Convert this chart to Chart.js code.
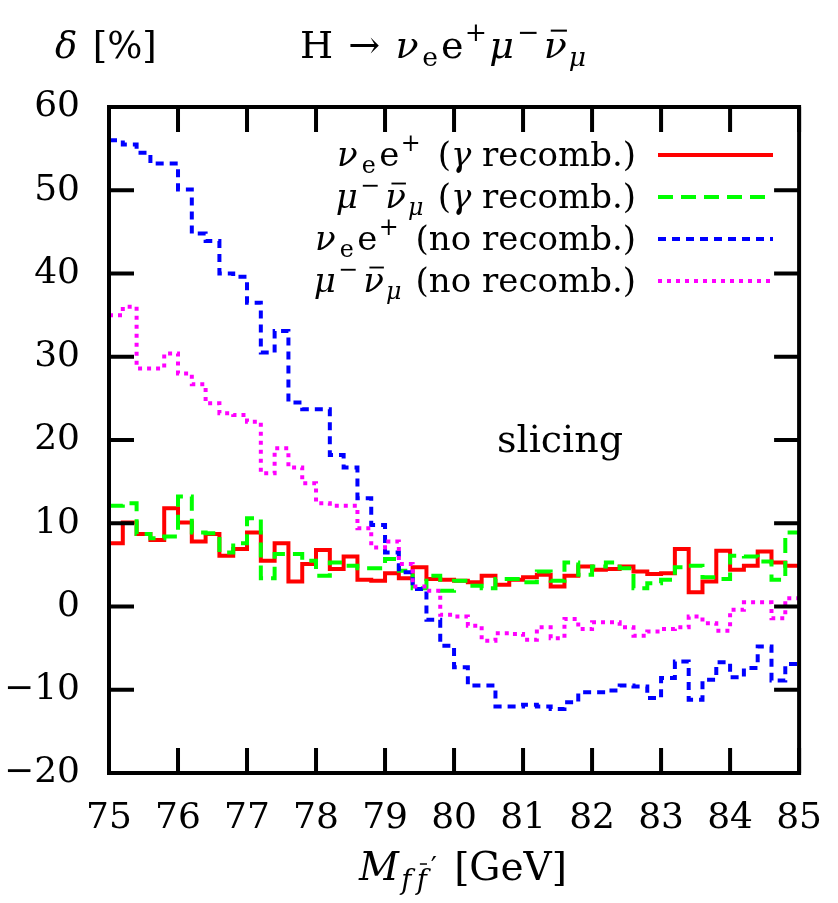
<!DOCTYPE html>
<html>
<head>
<meta charset="utf-8">
<script src="https://cdn.jsdelivr.net/npm/chart.js@4.4.0/dist/chart.umd.min.js"></script>
<style>
html, body { margin: 0; padding: 0; background: #fff; }
#sim_container { width: 838px; height: 903px; }
</style>
</head>
<body>
<div id="sim_container"><canvas id="grafica" width="838" height="903"></canvas></div>
<script>
/* Datos del histograma (bins de 0.2 GeV) */

// bordes de los bins, el ultimo cierra el histograma
const bordesBin = [75.0, 75.2, 75.4, 75.6, 75.8, 76.0, 76.2, 76.4, 76.6, 76.8,
                   77.0, 77.2, 77.4, 77.6, 77.8, 78.0, 78.2, 78.4, 78.6, 78.8,
                   79.0, 79.2, 79.4, 79.6, 79.8, 80.0, 80.2, 80.4, 80.6, 80.8,
                   81.0, 81.2, 81.4, 81.6, 81.8, 82.0, 82.2, 82.4, 82.6, 82.8,
                   83.0, 83.2, 83.4, 83.6, 83.8, 84.0, 84.2, 84.4, 84.6, 84.8, 85.0];

// nu_e e+ con recombinacion de fotones
const enuRecomb = [7.6, 10.1, 8.7, 8.0, 11.8, 10.1, 7.8, 8.7, 6.1, 6.9,
                   8.9, 5.5, 7.6, 3.0, 5.1, 6.8, 4.5, 6.0, 3.2, 3.1,
                   4.0, 3.4, 4.7, 3.3, 3.2, 3.1, 2.9, 3.7, 2.6, 3.2,
                   3.5, 3.8, 2.4, 3.7, 4.8, 4.4, 4.5, 4.8, 4.2, 3.9,
                   4.0, 6.9, 1.7, 3.0, 6.7, 4.4, 4.9, 6.6, 5.3, 4.9];

// mu- nubar_mu con recombinacion
const munuRecomb = [12.1, 12.4, 8.7, 8.2, 8.4, 13.2, 8.9, 8.8, 6.5, 7.6,
                    10.6, 3.4, 6.3, 6.3, 5.5, 3.7, 5.3, 4.9, 4.6, 4.6,
                    5.7, 4.3, 2.2, 3.7, 1.9, 3.1, 2.5, 2.2, 3.3, 3.3,
                    2.9, 4.2, 3.1, 5.3, 3.8, 4.8, 5.3, 4.6, 2.2, 2.8,
                    3.2, 4.7, 4.9, 3.5, 3.3, 6.1, 6.0, 5.4, 3.2, 8.9];

// nu_e e+ sin recombinacion
const enuSinRecomb = [56.0, 55.5, 54.5, 53.2, 53.2, 50.1, 44.8, 43.9, 40.0, 39.6,
                      36.5, 30.5, 33.1, 24.5, 23.7, 23.7, 18.2, 16.7, 13.0, 9.8,
                      6.5, 4.1, 2.1, -1.6, -4.7, -7.3, -9.5, -9.5, -12.0, -12.0,
                      -11.8, -12.0, -12.3, -11.5, -10.3, -10.3, -10.1, -9.5, -9.6, -11.0,
                      -8.6, -6.6, -11.2, -8.8, -6.7, -8.5, -7.4, -4.8, -8.9, -6.9];

// mu- nubar_mu sin recombinacion
const munuSinRecomb = [35.0, 36.0, 28.6, 28.6, 30.4, 28.0, 26.7, 24.4, 23.2, 23.0,
                       22.2, 16.0, 19.0, 16.7, 14.8, 12.4, 12.1, 12.1, 9.4, 7.1,
                       7.8, 5.1, 2.4, 1.9, -1.0, -1.2, -2.3, -4.1, -3.2, -3.3,
                       -4.0, -2.5, -3.8, -1.5, -2.7, -1.9, -1.9, -2.5, -3.5, -3.0,
                       -2.7, -2.5, -1.2, -2.0, -2.9, -0.4, 0.5, 0.5, -1.4, 1.0];

const ticksX = [75, 76, 77, 78, 79, 80, 81, 82, 83, 84, 85];
const ticksY = [-20, -10, 0, 10, 20, 30, 40, 50, 60];

const fuente = '"DejaVu Serif", "Liberation Serif", serif';
const tamLetra = 36;

// convierte los valores por bin en puntos escalonados
function histograma(valores) {
    return bordesBin.map((x, i) => ({ x: x, y: valores[Math.min(i, valores.length - 1)] }));
}

// Dibuja texto con subindices, superindices, cursiva y barra
// p.t texto, p.i cursiva, p.s 'sub'/'sup', p.b barra, p.e espacio extra (em), p.dy ajuste vertical (em)
function textoRico(ctx, partes, x, y, alinear, tam) {
    const medir = (p) => {
        let t = p.s ? tam * 0.7 : tam;
        ctx.font = (p.i ? 'italic ' : '') + t + 'px ' + fuente;
        return ctx.measureText(p.t).width;
    };
    let total = 0;
    partes.forEach(p => total += medir(p) + (p.e || 0) * tam);
    let cx = x;
    if (alinear === 'right') cx = x - total;
    if (alinear === 'center') cx = x - total / 2;
    ctx.textBaseline = 'alphabetic';
    ctx.textAlign = 'left';
    ctx.fillStyle = '#000';
    partes.forEach(p => {
        let w = medir(p);
        let dy = 0;
        if (p.s === 'sub') dy = tam * 0.22;
        if (p.s === 'sup') dy = -tam * 0.45;
        dy += (p.dy || 0) * tam;
        ctx.fillText(p.t, cx, y + dy);
        if (p.b) {
            // barra encima (antipartícula)
            let t = p.s ? tam * 0.7 : tam;
            let alto = p.b === 2 ? 0.9 : 0.72;
            ctx.save();
            ctx.strokeStyle = '#000';
            ctx.lineWidth = Math.max(1.5, t * 0.055);
            ctx.setLineDash([]);
            ctx.beginPath();
            ctx.moveTo(cx + w * 0.3, y + dy - t * alto);
            ctx.lineTo(cx + w * 1.0, y + dy - t * alto);
            ctx.stroke();
            ctx.restore();
        }
        cx += w + (p.e || 0) * tam;
    });
}

const nuE = [{ t: 'ν', i: 1, e: 0.12 }, { t: 'e', s: 'sub', e: 0.1 }, { t: 'e', e: 0.04 }, { t: '+', s: 'sup', e: 0.18 }];
const muNu = [{ t: 'μ', i: 1, e: 0.08 }, { t: '−', s: 'sup', e: 0.14 }, { t: 'ν', i: 1, b: 1, e: 0.06 }, { t: 'μ', i: 1, s: 'sub', e: 0.1 }];

const textosLeyenda = [
    nuE.concat([{ t: ' (' }, { t: 'γ', i: 1 }, { t: ' recomb.)' }]),
    muNu.concat([{ t: ' (' }, { t: 'γ', i: 1 }, { t: ' recomb.)' }]),
    nuE.concat([{ t: ' (no recomb.)' }]),
    muNu.concat([{ t: ' (no recomb.)' }])
];

const textoTitulo = [
    { t: 'H', e: 0.4 }, { t: '→', e: 0.4 },
    { t: 'ν', i: 1, e: 0.1 }, { t: 'e', s: 'sub', e: 0.08 }, { t: 'e', e: 0.03 }, { t: '+', s: 'sup', e: 0.06 },
    { t: 'μ', i: 1, e: 0.08 }, { t: '−', s: 'sup', e: 0.12 }, { t: 'ν', i: 1, b: 1, e: 0.05 }, { t: 'μ', i: 1, s: 'sub' }
];

const textoEjeX = [
    { t: 'M', i: 1, e: 0.06 }, { t: 'f', i: 1, s: 'sub', e: 0.14 }, { t: 'f', i: 1, s: 'sub', b: 2, e: 0.1 },
    { t: '′', s: 'sub', dy: -0.3, e: 0.12 }, { t: ' [GeV]' }
];

// Marcas hacia dentro, borde y textos del estilo gnuplot
const decoracion = {
    id: 'decoracion',
    afterDatasetsDraw(chart) {
        const ctx = chart.ctx;
        const a = chart.chartArea;
        const sx = chart.scales.x;
        const sy = chart.scales.y;
        ctx.save();
        ctx.strokeStyle = '#000';
        ctx.lineWidth = 4;
        ctx.beginPath();
        ticksX.forEach(v => {
            let px = sx.getPixelForValue(v);
            ctx.moveTo(px, a.bottom); ctx.lineTo(px, a.bottom - 25);
            ctx.moveTo(px, a.top); ctx.lineTo(px, a.top + 25);
        });
        ticksY.forEach(v => {
            let py = sy.getPixelForValue(v);
            ctx.moveTo(a.left, py); ctx.lineTo(a.left + 25, py);
            ctx.moveTo(a.right, py); ctx.lineTo(a.right - 25, py);
        });
        ctx.stroke();
        ctx.strokeRect(a.left, a.top, a.right - a.left, a.bottom - a.top);

        // leyenda
        chart.data.datasets.forEach((ds, i) => {
            let yb = 166 + i * 42;
            textoRico(ctx, textosLeyenda[i], 636, yb, 'right', 34);
            ctx.beginPath();
            ctx.strokeStyle = ds.borderColor;
            ctx.lineWidth = ds.borderWidth;
            ctx.setLineDash(ds.borderDash || []);
            ctx.moveTo(658, yb - 11);
            ctx.lineTo(773, yb - 11);
            ctx.stroke();
            ctx.setLineDash([]);
        });

        textoRico(ctx, [{ t: 'slicing' }], 497, 452, 'left', 38);
        textoRico(ctx, [{ t: 'δ', i: 1, e: 0.1 }, { t: ' [%]' }], 55, 58, 'left', 37);
        textoRico(ctx, textoTitulo, 300, 58, 'left', 38);
        textoRico(ctx, textoEjeX, 463, 880, 'center', 39);
        ctx.restore();
    }
};

function crearGrafica() {
    let ctx = document.getElementById('grafica').getContext('2d');
    return new Chart(ctx, {
        type: 'line',
        data: {
            datasets: [{
                label: 'nu_e e+ (gamma recomb.)',
                data: histograma(enuRecomb),
                borderColor: '#ff0000',
                borderWidth: 4,
                order: 4
            }, {
                label: 'mu- nubar_mu (gamma recomb.)',
                data: histograma(munuRecomb),
                borderColor: '#00ff00',
                borderWidth: 4,
                borderDash: [15, 8],
                order: 3
            }, {
                label: 'nu_e e+ (no recomb.)',
                data: histograma(enuSinRecomb),
                borderColor: '#0000ff',
                borderWidth: 4,
                borderDash: [8, 6],
                order: 2
            }, {
                label: 'mu- nubar_mu (no recomb.)',
                data: histograma(munuSinRecomb),
                borderColor: '#ff00ff',
                borderWidth: 4,
                borderDash: [4, 5],
                order: 1
            }]
        },
        options: {
            responsive: false,
            devicePixelRatio: 1,
            animation: false,
            elements: {
                line: { stepped: 'before', tension: 0, fill: false },
                point: { radius: 0 }
            },
            layout: { padding: { left: 0, top: 107, right: 23, bottom: 0 } },
            plugins: {
                legend: { display: false },
                tooltip: { enabled: false }
            },
            scales: {
                x: {
                    type: 'linear',
                    min: 75,
                    max: 85,
                    afterFit: (s) => { s.height = 130; },
                    afterBuildTicks: (s) => { s.ticks = ticksX.map(v => ({ value: v })); },
                    ticks: {
                        color: '#000',
                        padding: 16,
                        maxRotation: 0,
                        font: { family: fuente, size: tamLetra }
                    },
                    grid: { display: false },
                    border: { display: false }
                },
                y: {
                    min: -20,
                    max: 60,
                    afterFit: (s) => { s.width = 109; },
                    afterBuildTicks: (s) => { s.ticks = ticksY.map(v => ({ value: v })); },
                    ticks: {
                        color: '#000',
                        padding: 21,
                        font: { family: fuente, size: tamLetra },
                        callback: (v) => v < 0 ? '−' + Math.abs(v) : String(v)
                    },
                    grid: { display: false },
                    border: { display: false }
                }
            }
        },
        plugins: [decoracion]
    });
}

let grafica = crearGrafica();
</script>
</body>
</html>
